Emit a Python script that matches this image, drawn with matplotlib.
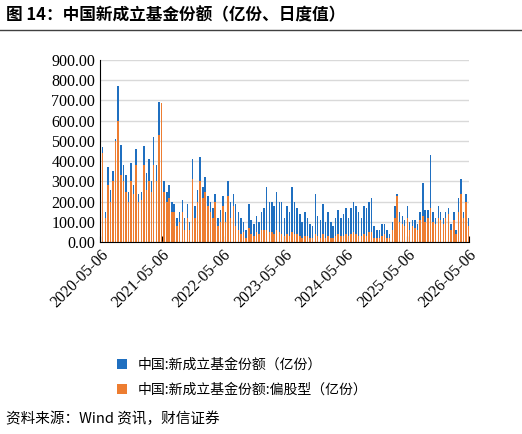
import matplotlib
matplotlib.use("Agg")
import matplotlib.pyplot as plt
import pandas as pd
import numpy as np

plt.rcParams['font.family'] = ['Noto Sans CJK SC', 'DejaVu Sans']

tick_labels = ["2020-05-06", "2021-05-06", "2022-05-06", "2023-05-06", "2024-05-06", "2025-05-06", "2026-05-06"]
series_names = ["中国:新成立基金份额（亿份）", "中国:新成立基金份额:偏股型（亿份）"]

total = [470,150,370,260,350,510,770,480,380,330,250,390,280,460,240,250,
         475,340,410,300,520,380,690,380,300,250,280,200,190,120,150,210,120,190,100,410,180,260,420,270,
         320,230,200,170,240,120,160,230,150,300,200,240,190,150,120,100,60,190,110,90,130,100,150,170,
         270,200,200,180,250,200,200,120,180,150,270,200,170,140,100,150,120,90,80,240,130,110,190,100,
         150,100,80,120,160,120,140,170,120,170,200,180,150,120,180,170,200,220,80,60,60,90,90,60,
         40,100,180,240,150,130,110,180,100,110,110,90,150,290,160,160,430,150,120,180,150,120,150,170,
         90,150,60,220,310,150,240,120,170]
equity = [440,120,280,200,300,500,600,330,300,250,200,300,240,380,200,210,
          380,260,300,250,380,300,530,685,250,200,220,150,150,80,100,150,60,120,60,310,120,200,300,220,
          250,180,150,120,200,80,100,180,100,230,120,180,80,60,40,50,20,70,40,30,50,40,60,60,
          60,50,50,40,60,50,40,30,40,30,50,40,40,30,20,30,30,20,20,40,30,20,40,20,
          30,20,20,30,40,30,30,40,30,40,50,40,30,30,40,30,50,50,20,20,20,30,40,20,
          20,60,120,230,100,90,80,120,60,80,70,60,110,130,100,120,170,100,90,120,110,90,120,140,
          60,110,40,150,240,120,200,80,120]

dates = pd.date_range("2020-05-06", periods=len(total), freq="SMS") + pd.Timedelta(days=5)

fig = plt.figure(figsize=(5.22, 4.34), dpi=100)
ax = fig.add_axes([0.192, 0.442, 0.706, 0.42])

blue = "#1f6fc0"
orange = "#ed7d31"
b1 = ax.bar(dates, total, width=9, color=blue, linewidth=0)
b2 = ax.bar(dates, equity, width=9, color=orange, linewidth=0)

ax.set_ylim(0, 900)
ax.set_yticks(np.arange(0, 901, 100))
ax.set_yticklabels([f"{v:.2f}" for v in range(0, 901, 100)])
ax.yaxis.grid(True, color="#d9d9d9", linewidth=1)
ax.set_axisbelow(True)
tdates = pd.to_datetime(tick_labels)
ax.set_xlim(tdates[0], tdates[-1])
ax.set_xticks(tdates)
ax.set_xticklabels(tick_labels, rotation=45, ha="right", rotation_mode="anchor")
for lbl in ax.get_yticklabels() + ax.get_xticklabels():
    lbl.set_fontfamily(["Liberation Serif"])
    lbl.set_fontsize(11.5)
for s in ["top", "right"]:
    ax.spines[s].set_visible(False)
ax.tick_params(axis="y", length=0)
ax.tick_params(axis="x", direction="in", length=4)

fig.legend([b1, b2], series_names, loc="upper left", bbox_to_anchor=(0.2, 0.205),
           frameon=False, fontsize=10, handlelength=0.7, handleheight=0.7, labelspacing=0.8)

fig.text(0.012, 0.965, "图 14：中国新成立基金份额（亿份、日度值）", fontsize=12, fontweight="bold", va="center")
fig.add_artist(plt.Line2D([0.0, 1.0], [0.93, 0.93], color="#404040", linewidth=1))
fig.text(0.012, 0.035, "资料来源：Wind 资讯，财信证券", fontsize=10.5, style="italic", va="center")

fig.savefig("out.png", dpi=100)
